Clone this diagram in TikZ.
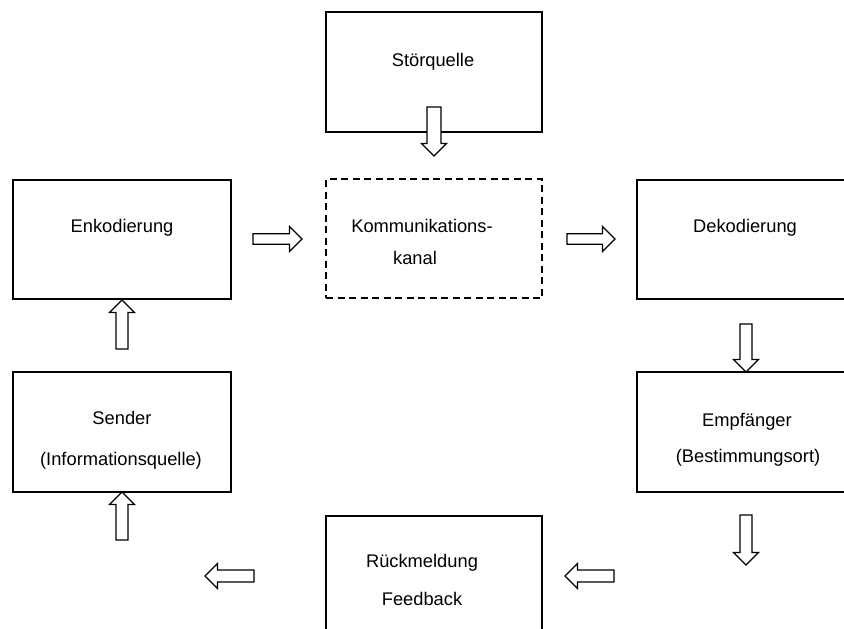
\documentclass[tikz,border=0pt]{standalone}
\usepackage{fontspec}
\setmainfont{Liberation Sans}
\newcommand{\blkarrow}[4]{% #1 tail, #2 angle, #3 length, #4 shaft half width
  \draw[arrowline, shift={#1}, rotate=#2]
    (0,-#4) -- ({#3-12.5},-#4) -- ({#3-12.5},-12.5) -- (#3,0) -- ({#3-12.5},12.5) -- ({#3-12.5},#4) -- (0,#4) -- cycle;}
\begin{document}
\begin{tikzpicture}[x=1pt,y=-1pt,
  box/.style={draw, line width=1.5pt, minimum width=216pt, minimum height=120pt, inner sep=0pt},
  dashbox/.style={box, dash pattern=on 7pt off 4.5pt},
  lbl/.style={anchor=base, inner sep=0pt, font=\fontsize{18.3}{22}\selectfont},
  arrowline/.style={draw, fill=white, line width=1.2pt, line join=miter}]
\useasboundingbox (0,0) rectangle (844,629);
\clip (0,0) rectangle (844,629);
% boxes
\node[box] (stoer) at (434,72) {};
\node[box, minimum width=218pt, minimum height=119pt] (enk) at (122,239.5) {};
\node[dashbox, minimum height=119pt] (kanal) at (434,238.5) {};
\node[box, minimum width=218pt, minimum height=119pt] (dek) at (746,239.5) {};
\node[box, minimum width=218pt] (send) at (122,432) {};
\node[box, minimum width=218pt] (emp) at (746,432) {};
\node[box] (rueck) at (434,576) {};
% labels
\node[lbl] (t1) at (433,66) {Störquelle};
\node[lbl] (t2) at (122,232) {Enkodierung};
\node[lbl] (t3) at (422,232) {Kommunikations-};
\node[lbl] (t4) at (415,264) {kanal};
\node[lbl] (t5) at (745,232) {Dekodierung};
\node[lbl] (t6) at (122,424) {Sender};
\node[lbl] (t7) at (121,465) {(Informationsquelle)};
\node[lbl] (t8) at (747,426) {Empfänger};
\node[lbl] (t9) at (748,462) {(Bestimmungsort)};
\node[lbl] (t10) at (422,567) {Rückmeldung};
\node[lbl] (t11) at (422,605) {Feedback};
% block arrows
\blkarrow{(434,107)}{-90}{49}{7}
\blkarrow{(253,239)}{0}{49}{5.3}
\blkarrow{(567,239)}{0}{48}{5.3}
\blkarrow{(746,324)}{-90}{48}{6}
\blkarrow{(746,515)}{-90}{50}{6}
\blkarrow{(614,576)}{180}{49}{6}
\blkarrow{(254,576)}{180}{49}{6}
\blkarrow{(122,349)}{90}{49}{6}
\blkarrow{(122,540)}{90}{48}{6}
\end{tikzpicture}
\end{document}
